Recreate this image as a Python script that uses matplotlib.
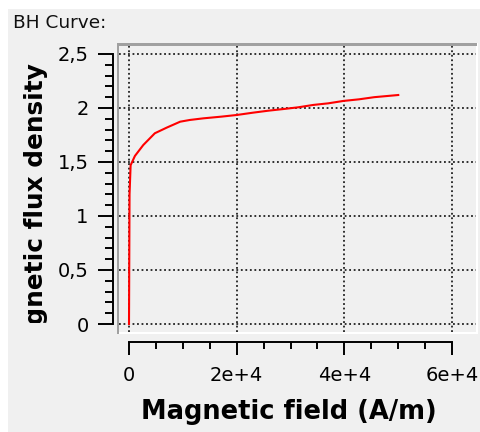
import matplotlib
matplotlib.use("Agg")
import matplotlib.pyplot as plt
from matplotlib.patches import Rectangle
from matplotlib.ticker import MultipleLocator, FuncFormatter
from matplotlib.transforms import Bbox, TransformedBbox

# BH curve
H = [0, 100, 300, 1100, 2650, 4800, 7000, 9500, 11300, 13800, 17200, 20000,
     23100, 25900, 28650, 31400, 34200, 37000, 39800, 42700, 45550, 50000]
B = [0, 1.2, 1.47, 1.556, 1.657, 1.766, 1.818, 1.873, 1.889, 1.904, 1.92, 1.935,
     1.957, 1.975, 1.99, 2.006, 2.028, 2.043, 2.065, 2.08, 2.10, 2.12]

x_ticks = [0, 20000, 40000, 60000]
x_tick_labels = ["0", "2e+4", "4e+4", "6e+4"]
y_ticks = [0, 0.5, 1, 1.5, 2, 2.5]

W, Hpx = 481, 432
BG = "#f0f0f0"


def fx(px):
    return px / W


def fy(py):
    return 1 - py / Hpx


fig = plt.figure(figsize=(W / 100, Hpx / 100), dpi=100, facecolor="white")

# widget background (white strip at top and left)
fig.add_artist(Rectangle((fx(8), 0), 1 - fx(8), fy(9), transform=fig.transFigure,
                         facecolor=BG, edgecolor="none", zorder=-1))

fig.text(fx(13), fy(23), "BH Curve:", fontsize=13.3, ha="left", va="center", color="#101010")

# plot canvas
ax = fig.add_axes([fx(119), fy(332), fx(476) - fx(119), fy(45) - fy(332)])
ax.set_facecolor(BG)
ax.plot(H, B, color="#ff0000", lw=1.5, zorder=3)

ax.set_xlim(-1857, 64438)
ax.set_ylim(-0.074, 2.583)

ax.set_xticks(x_ticks)
ax.set_xticklabels(x_tick_labels)
ax.xaxis.set_minor_locator(MultipleLocator(5000))
ax.set_yticks(y_ticks)
ax.yaxis.set_minor_locator(MultipleLocator(0.1))
ax.yaxis.set_major_formatter(FuncFormatter(lambda v, p: ("%g" % v).replace(".", ",")))

ax.grid(True, which="major", color="#202020", lw=1.3, linestyle=(0, (1, 1.5)))

for s in ["top", "right"]:
    ax.spines[s].set_visible(False)
ax.spines["left"].set_position(("outward", 4.3))
ax.spines["left"].set_bounds(0, 2.5)
ax.spines["bottom"].set_position(("outward", 7.2))
ax.spines["bottom"].set_bounds(0, 60000)
for s in ["left", "bottom"]:
    ax.spines[s].set_linewidth(1.4)
    ax.spines[s].set_color("#000000")

ax.tick_params(axis="both", which="major", direction="out", width=1.4, labelsize=14,
               colors="#000000")
ax.tick_params(axis="y", which="major", length=10.5, pad=7)
ax.tick_params(axis="y", which="minor", length=6, width=1.4)
ax.tick_params(axis="x", which="major", length=9.4, pad=8)
ax.tick_params(axis="x", which="minor", length=5, width=1.4)

# sunken canvas frame
white = dict(transform=fig.transFigure, facecolor="white", edgecolor="none", zorder=4)
gray = dict(transform=fig.transFigure, facecolor="#a0a0a0", edgecolor="none", zorder=5)
fig.add_artist(Rectangle((fx(117), fy(334)), fx(478) - fx(117), fy(332) - fy(334), **white))
fig.add_artist(Rectangle((fx(476), fy(334)), fx(478) - fx(476), fy(43) - fy(334), **white))
fig.add_artist(Rectangle((fx(117), fy(45.5)), fx(477) - fx(117), fy(43) - fy(45.5), **gray))
fig.add_artist(Rectangle((fx(117), fy(334)), fx(119.5) - fx(117), fy(43) - fy(334), **gray))

# axis titles
fig.text(fx(289), fy(412), "Magnetic field (A/m)", fontsize=18.5, fontweight="bold",
         ha="center", va="center")
ylab = fig.text(fx(36), fy(63), "Magnetic flux density", fontsize=17.8, fontweight="bold",
                rotation=90, ha="center", va="top")
ylab.set_clip_box(TransformedBbox(Bbox.from_extents(0, fy(322.5), 1, 1), fig.transFigure))
ylab.set_clip_on(True)

fig.savefig("out.png", dpi=100, facecolor="white")
